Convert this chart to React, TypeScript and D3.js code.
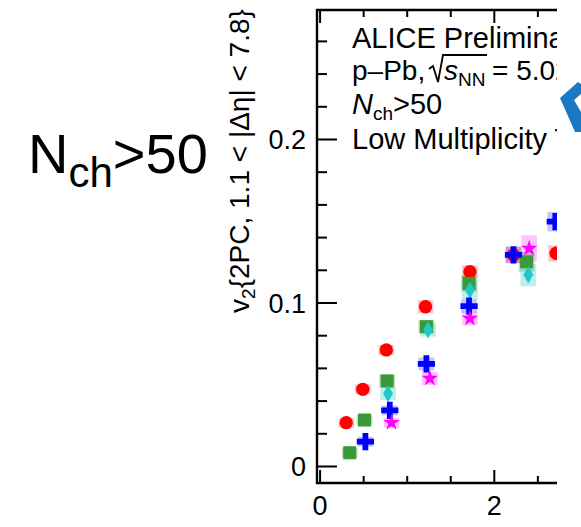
import React from "react";
import * as d3 from "d3";

// ---------- data ----------
const redX = [0.30, 0.49, 0.76, 1.21, 1.72, 2.22, 2.71];
const redY = [0.0268, 0.0472, 0.0713, 0.0977, 0.1191, 0.1294, 0.1304];
const redSys = [0.003, 0.003, 0.003, 0.004, 0.004, 0.005, 0.005];

const greenX = [0.34, 0.51, 0.77, 1.22, 1.71, 2.37];
const greenY = [0.0084, 0.0284, 0.0523, 0.0855, 0.112, 0.1252];
const greenSys = [0.003, 0.003, 0.004, 0.004, 0.005, 0.006];

const cyanX = [0.78, 1.24, 1.72, 2.39];
const cyanY = [0.0446, 0.0835, 0.1079, 0.1172];
const cyanSys = [0.004, 0.004, 0.006, 0.007];

const blueX = [0.52, 0.8, 1.22, 1.71, 2.22, 2.7];
const blueY = [0.0152, 0.0343, 0.0627, 0.0981, 0.1294, 0.1497];
const blueSys = [0.003, 0.003, 0.004, 0.004, 0.005, 0.006];

const magentaX = [0.82, 1.26, 1.72, 2.4];
const magentaY = [0.0268, 0.0539, 0.0906, 0.1334];
const magentaSys = [0.003, 0.004, 0.004, 0.008];

const yMajorTicks = [0, 0.1, 0.2];
const yTickLabels = ["0", "0.1", "0.2"];
const yMinorTicks = [0.02, 0.04, 0.06, 0.08, 0.12, 0.14, 0.16, 0.18, 0.22, 0.24, 0.26];
const xMajorTicks = [0, 2];
const xTickLabels = ["0", "2"];
const xMinorTicks = [0.5, 1, 1.5, 2.5];

const legendLines = ["ALICE Preliminary", "Low Multiplicity Template Fit"];

// ---------- layout ----------
const W = 581;
const H = 527;
const frame = { left: 317, right: 557, top: 10, bottom: 483 };
const FONT = "'Liberation Sans', Arial, Helvetica, sans-serif";

const x = d3.scaleLinear().domain([-0.0356, 2.7196]).range([frame.left, frame.right]);
const y = d3.scaleLinear().domain([-0.0101, 0.2792]).range([frame.bottom, frame.top]);

const BOX_HALF_W = 0.09;

type Series = {
  xs: number[];
  ys: number[];
  sys: number[];
  color: string;
  boxColor: string;
  symbol: d3.SymbolType;
  size: number;
};

const series: Series[] = [
  { xs: redX, ys: redY, sys: redSys, color: "#ff0000", boxColor: "rgba(255,60,60,0.3)", symbol: d3.symbolCircle, size: 140 },
  { xs: greenX, ys: greenY, sys: greenSys, color: "#3a9a3a", boxColor: "rgba(40,150,40,0.3)", symbol: d3.symbolSquare, size: 170 },
  { xs: cyanX, ys: cyanY, sys: cyanSys, color: "#22c7c7", boxColor: "rgba(40,200,200,0.3)", symbol: d3.symbolDiamond, size: 85 },
  { xs: blueX, ys: blueY, sys: blueSys, color: "#0000ff", boxColor: "rgba(60,60,255,0.3)", symbol: d3.symbolCross, size: 165 },
  { xs: magentaX, ys: magentaY, sys: magentaSys, color: "#ff00ff", boxColor: "rgba(255,60,255,0.3)", symbol: d3.symbolStar, size: 85 },
];

export default function App() {
  const sym = (s: Series) => d3.symbol().type(s.symbol).size(s.size)() as string;
  const lw = 2.4;
  const LF = 29;
  const SF = 19;
  return (
    <svg width={W} height={H} style={{ position: "absolute", left: 0, top: 0, background: "#fff" }}>
      <defs>
        <clipPath id="crop">
          <rect x={0} y={0} width={frame.right} height={H} />
        </clipPath>
      </defs>
      <rect x={0} y={0} width={W} height={H} fill="#fff" />
      <g clipPath="url(#crop)" fontFamily={FONT} fill="#000">
        {/* big label */}
        <text x={28} y={173} fontSize={56}>
          N<tspan fontSize={42} dy={14}>ch</tspan>
          <tspan dy={-14}>&gt;50</tspan>
        </text>

        {/* y title */}
        <text transform={`translate(249,161) rotate(-90)`} textAnchor="middle" fontSize={28}>
          v<tspan fontSize={19} dy={6}>2</tspan>
          <tspan dy={-6}>{"{2PC, 1.1 < |Δη| < 7.8}"}</tspan>
        </text>

        {/* sys boxes */}
        {series.map((s, si) =>
          s.xs.map((xv, i) => (
            <rect
              key={`b${si}-${i}`}
              x={x(xv - BOX_HALF_W)}
              y={y(s.ys[i] + s.sys[i])}
              width={x(xv + BOX_HALF_W) - x(xv - BOX_HALF_W)}
              height={y(s.ys[i] - s.sys[i]) - y(s.ys[i] + s.sys[i])}
              fill={s.boxColor}
            />
          ))
        )}
        {/* markers */}
        {series.map((s, si) =>
          s.xs.map((xv, i) => (
            <path key={`m${si}-${i}`} d={sym(s)} transform={`translate(${x(xv)},${y(s.ys[i])})`} fill={s.color} />
          ))
        )}

        {/* frame */}
        <path
          d={`M${frame.right},${frame.top}H${frame.left}V${frame.bottom}H${frame.right}`}
          fill="none"
          stroke="#000"
          strokeWidth={lw}
        />
        {/* y ticks */}
        {yMajorTicks.map((t) => (
          <line key={`ym${t}`} x1={frame.left} x2={frame.left + 20} y1={y(t)} y2={y(t)} stroke="#000" strokeWidth={2} />
        ))}
        {yMinorTicks.map((t) => (
          <line key={`yn${t}`} x1={frame.left} x2={frame.left + 10} y1={y(t)} y2={y(t)} stroke="#000" strokeWidth={2} />
        ))}
        {yMajorTicks.map((t, i) => (
          <text key={`yl${t}`} x={306} y={y(t)} dy="0.36em" textAnchor="end" fontSize={27}>
            {yTickLabels[i]}
          </text>
        ))}
        {/* x ticks bottom & top */}
        {xMajorTicks.map((t) => (
          <g key={`xm${t}`}>
            <line x1={x(t)} x2={x(t)} y1={frame.bottom} y2={frame.bottom - 13} stroke="#000" strokeWidth={2} />
            <line x1={x(t)} x2={x(t)} y1={frame.top} y2={frame.top + 13} stroke="#000" strokeWidth={2} />
          </g>
        ))}
        {xMinorTicks.map((t) => (
          <g key={`xn${t}`}>
            <line x1={x(t)} x2={x(t)} y1={frame.bottom} y2={frame.bottom - 7} stroke="#000" strokeWidth={2} />
            <line x1={x(t)} x2={x(t)} y1={frame.top} y2={frame.top + 7} stroke="#000" strokeWidth={2} />
          </g>
        ))}
        {xMajorTicks.map((t, i) => (
          <text key={`xl${t}`} x={x(t)} y={515} textAnchor="middle" fontSize={27}>
            {xTickLabels[i]}
          </text>
        ))}

        {/* legend text */}
        <text x={352} y={48} fontSize={LF}>{legendLines[0]}</text>
        <text x={352} y={80} fontSize={28}>
          p–Pb,
          <tspan x={444} fontStyle="italic">s</tspan>
          <tspan fontSize={SF} dy={6}>NN</tspan>
          <tspan x={492} dy={-6}>= 5.02 TeV</tspan>
        </text>
        <path d="M429,69 L433,66 L438,82 L443,55 L487,55" fill="none" stroke="#000" strokeWidth={1.8} />
        <text x={352} y={114} fontSize={LF}>
          <tspan fontStyle="italic">N</tspan>
          <tspan fontSize={SF} dy={6}>ch</tspan>
          <tspan dy={-6}>&gt;50</tspan>
        </text>
        <text x={352} y={149} fontSize={LF}>{legendLines[1]}</text>
      </g>

      {/* blue arrow fragment at right edge */}
      <path d="M578,82 L560,98 L575,132 L581,132 L581,112 L574,100 L581,94 L581,84 Z" fill="#1b78c2" />
    </svg>
  );
}
